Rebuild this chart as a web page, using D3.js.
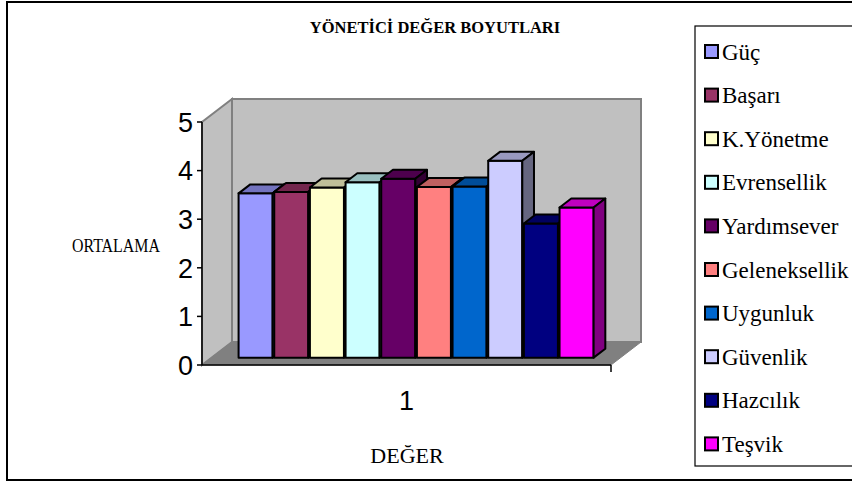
<!DOCTYPE html>
<html>
<head>
<meta charset="utf-8">
<script src="https://cdn.jsdelivr.net/npm/d3@7"></script>
<style>
  body { margin: 0; background: #fff; }
  svg { display: block; }
</style>
</head>
<body>
<svg id="canvas" width="852" height="482"></svg>
<script>
// data
const categories = ["1"]
const seriesNames = ["Güç", "Başarı", "K.Yönetme", "Evrensellik", "Yardımsever",
  "Geleneksellik", "Uygunluk", "Güvenlik", "Hazcılık", "Teşvik"]
const seriesValues = [3.38, 3.41, 3.50, 3.61, 3.68, 3.51, 3.52, 4.05, 2.76, 3.09]
const seriesColors = ["#9999FF", "#993366", "#FFFFCC", "#CCFFFF", "#660066",
  "#FF8080", "#0066CC", "#CCCCFF", "#000080", "#FF00FF"]
const yTicks = [0, 1, 2, 3, 4, 5]

const SERIF = "'Liberation Serif', 'Times New Roman', serif"
const SANS = "'Liberation Sans', Arial, sans-serif"

const svg = d3.select("#canvas")

// plot box (front plane) and the depth of the 3d floor
const plotL = 202, plotR = 611
const depth = { x: 30, y: -23 }
const barFront = 0.32, barBack = 0.71

const y = d3.scaleLinear().domain([0, 5]).range([365, 122])
const x0 = d3.scaleBand().domain(categories).range([plotL, plotR]).paddingOuter(0.076)
const x1 = d3.scaleBand().domain(seriesNames).range([0, x0.bandwidth()]).paddingInner(0.045)

// projecting a point (x on front plane, value, depth fraction)
const pt = (x, v, f) => [x + f * depth.x, y(v) + f * depth.y]
const poly = pts => pts.map(p => p.join(",")).join(" ")

// outer border
svg.append("rect")
  .attr("x", 7).attr("y", 2).attr("width", 860).attr("height", 478)
  .attr("fill", "#fff").attr("stroke", "#000").attr("stroke-width", 2)

// walls and floor
const wallTop = 5
svg.append("polygon") // left wall
  .attr("points", poly([pt(plotL, 0, 0), pt(plotL, wallTop, 0), pt(plotL, wallTop, 1), pt(plotL, 0, 1)]))
  .attr("fill", "#c0c0c0").attr("stroke", "#808080").attr("stroke-width", 2)
svg.append("polygon") // back wall
  .attr("points", poly([pt(plotL, 0, 1), pt(plotL, wallTop, 1), pt(plotR, wallTop, 1), pt(plotR, 0, 1)]))
  .attr("fill", "#c0c0c0").attr("stroke", "#808080").attr("stroke-width", 2)
svg.append("polygon") // floor
  .attr("points", poly([pt(plotL, 0, 0), pt(plotL, 0, 1), pt(plotR, 0, 1), pt(plotR, 0, 0)]))
  .attr("fill", "#808080").attr("stroke", "#808080").attr("stroke-width", 1)

// bars, drawn left to right so the next one hides the side of the previous one
const shade = (c, k) => {
  const r = d3.rgb(c)
  return d3.rgb(r.r * k, r.g * k, r.b * k).formatHex()
}
seriesNames.forEach((name, i) => {
  const v = seriesValues[i]
  const xl = x0(categories[0]) + x1(name)
  const xr = xl + x1.bandwidth()
  const g = svg.append("g")
  g.append("polygon") // front
    .attr("points", poly([pt(xl, 0, barFront), pt(xl, v, barFront), pt(xr, v, barFront), pt(xr, 0, barFront)]))
    .attr("fill", seriesColors[i])
  g.append("polygon") // top
    .attr("points", poly([pt(xl, v, barFront), pt(xl, v, barBack), pt(xr, v, barBack), pt(xr, v, barFront)]))
    .attr("fill", shade(seriesColors[i], 0.75))
  g.append("polygon") // side
    .attr("points", poly([pt(xr, 0, barFront), pt(xr, v, barFront), pt(xr, v, barBack), pt(xr, 0, barBack)]))
    .attr("fill", shade(seriesColors[i], 0.5))
  g.selectAll("polygon")
    .attr("stroke", "#000").attr("stroke-width", 2).attr("stroke-linejoin", "round")
})

// value axis
svg.append("line")
  .attr("x1", plotL).attr("x2", plotL).attr("y1", y(0)).attr("y2", y(5))
  .attr("stroke", "#000").attr("stroke-width", 1.5)
svg.selectAll(".ytick")
  .data(yTicks)
  .enter()
  .append("line")
  .attr("x1", plotL - 5).attr("x2", plotL)
  .attr("y1", d => y(d)).attr("y2", d => y(d))
  .attr("stroke", "#000").attr("stroke-width", 1.5)
svg.selectAll(".ylabel")
  .data(yTicks)
  .enter()
  .append("text")
  .attr("font-family", SANS)
  .attr("x", plotL - 9).attr("y", d => y(d))
  .attr("dy", "0.36em")
  .attr("text-anchor", "end")
  .attr("font-size", 27)
  .text(d => d)

// category axis
svg.append("line")
  .attr("x1", plotL).attr("x2", plotR).attr("y1", y(0)).attr("y2", y(0))
  .attr("stroke", "#000").attr("stroke-width", 1.5)
svg.append("line")
  .attr("x1", plotR).attr("x2", plotR).attr("y1", y(0)).attr("y2", y(0) + 7)
  .attr("stroke", "#000").attr("stroke-width", 1.5)
svg.append("text")
  .attr("font-family", SANS)
  .attr("x", x0(categories[0]) + x0.bandwidth() / 2).attr("y", 400)
  .attr("dy", "0.36em")
  .attr("text-anchor", "middle")
  .attr("font-size", 27)
  .text(categories[0])

// titles
svg.append("text")
  .attr("font-family", SERIF)
  .attr("x", 435).attr("y", 33)
  .attr("text-anchor", "middle")
  .attr("font-size", 16.5).attr("font-weight", "bold")
  .text("YÖNETİCİ DEĞER BOYUTLARI")
svg.append("text")
  .attr("font-family", SERIF)
  .attr("x", 72).attr("y", 252)
  .attr("font-size", 19)
  .attr("textLength", 88).attr("lengthAdjust", "spacingAndGlyphs")
  .text("ORTALAMA")
svg.append("text")
  .attr("font-family", SERIF)
  .attr("x", 407).attr("y", 463)
  .attr("text-anchor", "middle")
  .attr("font-size", 22)
  .text("DEĞER")

// legend
const legend = svg.append("g")
legend.append("rect")
  .attr("x", 695).attr("y", 26).attr("width", 170).attr("height", 440)
  .attr("fill", "#fff").attr("stroke", "#000").attr("stroke-width", 1.2)
const rowY = i => 52 + i * 43.6
const items = legend.selectAll(".item")
  .data(seriesNames)
  .enter()
  .append("g")
  .attr("transform", (d, i) => `translate(0,${rowY(i)})`)
items.append("rect")
  .attr("x", 705).attr("y", -7).attr("width", 13).attr("height", 13)
  .attr("fill", (d, i) => seriesColors[i])
  .attr("stroke", "#000").attr("stroke-width", 2)
items.append("text")
  .attr("font-family", SERIF)
  .attr("x", 722).attr("y", 0)
  .attr("dy", "0.33em")
  .attr("font-size", 23)
  .text(d => d)
</script>
</body>
</html>
